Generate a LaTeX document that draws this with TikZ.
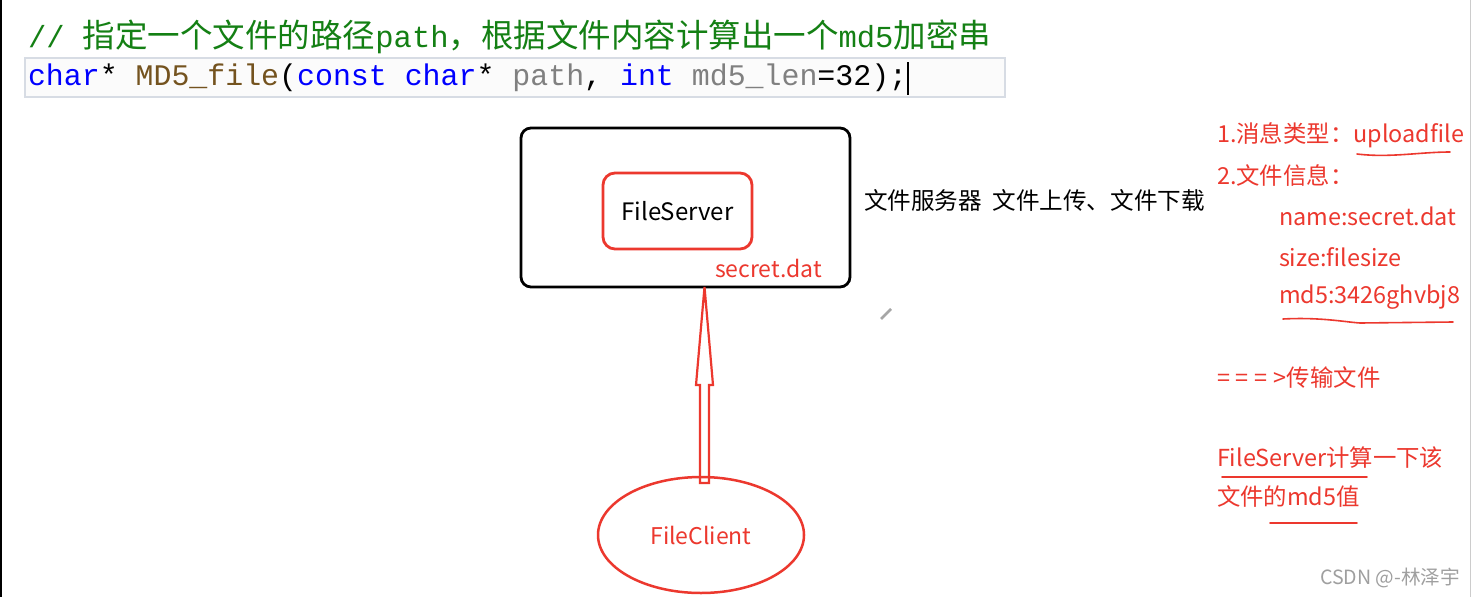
\documentclass[tikz,border=0pt]{standalone}
\usepackage{fontspec}
\setmainfont{Noto Sans CJK SC}
\newfontfamily\cjk{Noto Sans CJK SC}
\newfontfamily\monof{Liberation Mono}
\usetikzlibrary{shapes.geometric}
\definecolor{cmtgreen}{RGB}{20,128,20}
\definecolor{kwblue}{RGB}{0,0,255}
\definecolor{fnbrown}{RGB}{116,83,31}
\definecolor{pgray}{RGB}{128,128,128}
\definecolor{annred}{RGB}{236,56,46}
\definecolor{boxgray}{RGB}{215,220,228}
\tikzset{
  every node/.style={inner sep=0pt, outer sep=0pt},
  ann/.style={anchor=west, text=annred, font=\cjk\fontsize{23.4}{26}\selectfont},
  uline/.style={draw=annred, line width=1.6pt, line cap=round},
}
\newcommand{\cm}[1]{{\cjk\fontsize{32.5}{36}\selectfont #1}}
\newcommand{\mn}[1]{{\monof\fontsize{30.5}{36}\selectfont #1}}
\begin{document}
\begin{tikzpicture}[x=1pt,y=-1pt]
\useasboundingbox (0,0) rectangle (1472,597);
\fill[white] (0,0) rectangle (1472,597);
% window edges
\draw[black, line width=1.5pt] (0.8,0) -- (0.8,597);
\draw[gray!40, line width=1pt] (1470,0) -- (1470,597);
% code line box
\draw[boxgray, line width=1.2pt, fill=gray!3] (25,58) rectangle (1005,97);
% comment line
\node[anchor=west, text=cmtgreen] (cmt) at (28,37)
  {\mn{//\ }\cm{指定一个文件的路径}\mn{path}\cm{，根据文件内容计算出一个}\mn{md5}\cm{加密串}};
% code line
\node[anchor=west] (code) at (28,78)
  {\monof\fontsize{29.9}{34}\selectfont\textcolor{kwblue}{char}*\ \textcolor{fnbrown}{MD5\_file}(\textcolor{kwblue}{const}\ \textcolor{kwblue}{char}*\ \textcolor{pgray}{path},\ \textcolor{kwblue}{int}\ \textcolor{pgray}{md5\_len}=32);};
\draw[black, line width=1.2pt] (908,62) -- (908,95);
% main server box
\draw[black, line width=2.8pt, rounded corners=10pt] (521,128) rectangle (850,287);
\node[draw=annred, line width=2.8pt, rounded corners=12pt, minimum width=149pt, minimum height=76pt, font=\cjk\fontsize{24}{28}\selectfont] (fs) at (677.5,211) {FileServer};
\node[anchor=west, text=annred, font=\cjk\fontsize{23}{26}\selectfont] (sd) at (715,268) {secret.dat};
\node[anchor=west, font=\cjk\fontsize{23.6}{26}\selectfont] (desc) at (864,200) {文件服务器\ \ 文件上传、文件下载};
% client
\node[ellipse, draw=annred, line width=2.5pt, minimum width=206pt, minimum height=116pt, text=annred, font=\cjk\fontsize{23}{26}\selectfont] (fc) at (701,535) {FileClient};
% hollow block arrow
\coordinate (tip) at (704.5,287);
\draw[annred, line width=2.2pt, line join=miter]
  (700,483) -- (700,385) -- (696,385) -- (tip) -- (713,385) -- (709,385) -- (709,483) -- cycle;
% pencil icon
\draw[gray!70, line width=2.5pt] (881,319) -- (891,309);
% annotations
\node[ann] (a1) at (1217,135) {1.消息类型：uploadfile};
\node[ann] (a2) at (1217,176) {2.文件信息：};
\node[ann] (a3) at (1279,216) {name:secret.dat};
\node[ann] (a4) at (1279,257) {size:filesize};
\node[ann] (a5) at (1279,297) {md5:3426ghvbj8};
\node[ann] (a6) at (1217,378) {=\kern6pt=\kern6pt=\kern6pt>传输文件};
\node[ann] (a7) at (1217,458) {FileServer计算一下该};
\node[ann] (a8) at (1217,497) {文件的md5值};
\node[anchor=west, text=gray!75, font=\cjk\fontsize{19.6}{22}\selectfont] (wm) at (1320,578) {CSDN @-林泽宇};
% hand-drawn underlines
\draw[uline] (1357,154) .. controls (1390,158) and (1420,152) .. (1450,152);
\draw[uline] (1283,319) .. controls (1320,317) and (1345,322) .. (1360,323) -- (1453,322);
\draw[uline] (1222,477) -- (1367,477);
\draw[uline] (1270,523) -- (1357,523);
\end{tikzpicture}
\end{document}
